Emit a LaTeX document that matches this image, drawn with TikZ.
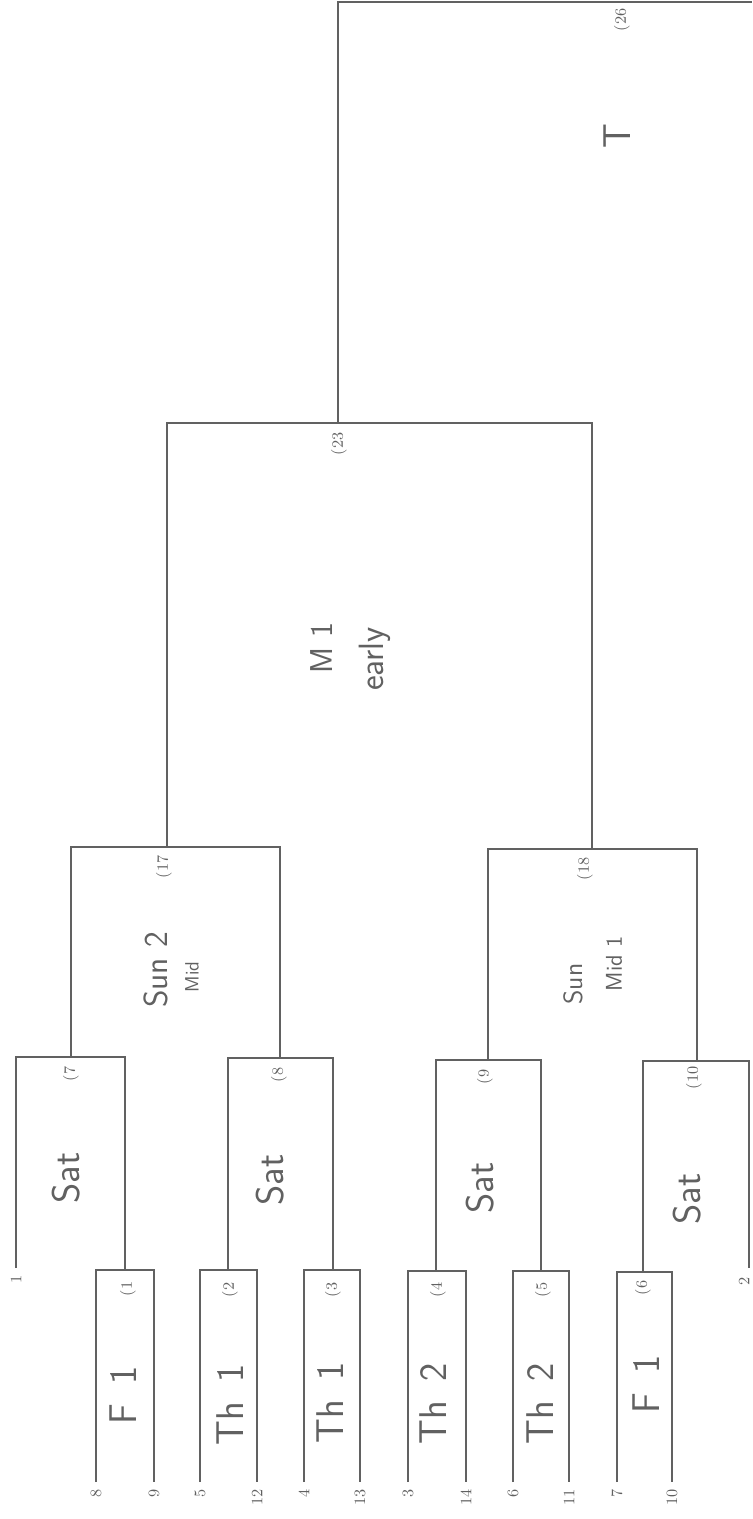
\documentclass[tikz,border=0pt]{standalone}
\definecolor{ink}{gray}{0.38}
\tikzstyle{bracket} = [draw=ink, line width=1pt]
\tikzstyle{seed} = [rotate=90, anchor=east, inner sep=4pt, text=ink, font=\small]
\tikzstyle{gamenum} = [rotate=90, inner sep=0pt, text=ink, font=\small]
\tikzset{hand/.style={rotate=90, inner sep=0pt, text=ink, font=\sffamily\fontsize{#1}{#1}\selectfont},
  hand/.default=22}

\begin{document}
\begin{tikzpicture}[x=0.02cm, y=-0.02cm]
	\useasboundingbox (0,0) rectangle (752,1519);

		% seeds
		\foreach \s/\x in {8/96, 9/154, 5/200, 12/257, 4/304, 13/360, 3/408, 14/466, 6/513, 11/569, 7/617, 10/672}
			\node [seed] (n\s) at (\x,1482) {\s};
		\node [seed] (n1) at (16,1268) {1};
		\node [seed] (n2) at (744,1270) {2};
		\coordinate (b2) at (749,1268);

		% junctions
		\coordinate (g1) at (125,1270);
		\coordinate (g2) at (228,1270);
		\coordinate (g3) at (333,1270);
		\coordinate (g4) at (436,1271);
		\coordinate (g5) at (541,1271);
		\coordinate (g6) at (643,1272);
		\coordinate (g7) at (71,1057);
		\coordinate (g8) at (280,1058);
		\coordinate (g9) at (488,1060);
		\coordinate (g10) at (697,1061);
		\coordinate (g17) at (167,847);
		\coordinate (g18) at (592,849);
		\coordinate (g23) at (338,423);
		\coordinate (g26) at (622,2);
		\coordinate (g26r) at (752,2);

		\path [bracket] (n8.east) |- (g1) -| (n9.east);
		\path [bracket] (n5.east) |- (g2) -| (n12.east);
		\path [bracket] (n4.east) |- (g3) -| (n13.east);
		\path [bracket] (n3.east) |- (g4) -| (n14.east);
		\path [bracket] (n6.east) |- (g5) -| (n11.east);
		\path [bracket] (n7.east) |- (g6) -| (n10.east);
		\path [bracket] (n1.east) |- (g7) -| (g1);
		\path [bracket] (g2) |- (g8) -| (g3);
		\path [bracket] (g4) |- (g9) -| (g5);
		\path [bracket] (g6) |- (g10) -| (b2);
		\path [bracket] (g7) |- (g17) -| (g8);
		\path [bracket] (g9) |- (g18) -| (g10);
		\path [bracket] (g17) |- (g23) -| (g18);
		\path [bracket] (g23) |- (g26) -- (g26r);

		% game numbers
		\node [gamenum] (l1) at (128,1289) {(1};
		\node [gamenum] (l2) at (230,1290) {(2};
		\node [gamenum] (l3) at (333,1290) {(3};
		\node [gamenum] (l4) at (438,1290) {(4};
		\node [gamenum] (l5) at (543,1290) {(5};
		\node [gamenum] (l6) at (643,1288) {(6};
		\node [gamenum] (l7) at (71,1074) {(7};
		\node [gamenum] (l8) at (279,1075) {(8};
		\node [gamenum] (l9) at (485,1077) {(9};
		\node [gamenum] (l10) at (694,1078) {(10};
		\node [gamenum] (l17) at (164,867) {(17};
		\node [gamenum] (l18) at (585,869) {(18};
		\node [gamenum] (l23) at (339,444) {(23};
		\node [gamenum] (l26) at (622,20) {(26};

		% days
		\node [hand] (d1) at (123,1395) {F\enspace 1};
		\node [hand] (d2) at (230,1405) {Th\enspace 1};
		\node [hand] (d3) at (330,1403) {Th\enspace 1};
		\node [hand] (d4) at (433,1404) {Th\enspace 2};
		\node [hand] (d5) at (540,1404) {Th\enspace 2};
		\node [hand] (d6) at (646,1384) {F\enspace 1};
		\node [hand] (d7) at (66,1178) {Sat};
		\node [hand] (d8) at (270,1180) {Sat};
		\node [hand] (d9) at (480,1188) {Sat};
		\node [hand] (d10) at (687,1199) {Sat};
		\node [hand=19] (d17) at (156,970) {Sun 2};
		\node [hand=11] (t17) at (192,977) {Mid};
		\node [hand=15] (d18) at (573,984) {Sun};
		\node [hand=13] (t18) at (614,964) {Mid 1};
		\node [hand=18] (d23) at (322,648) {M 1};
		\node [hand=20] (t23) at (375,659) {early};
		\node [hand] (d26) at (617,136) {T};
	\end{tikzpicture}
\end{document}
